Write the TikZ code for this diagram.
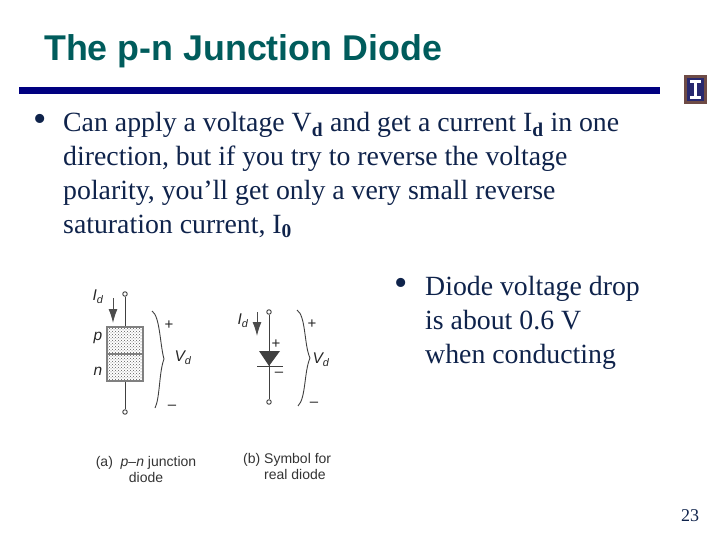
\documentclass[tikz,border=0pt]{standalone}
\usepackage{fontspec}
\setmainfont{Liberation Serif}
\setsansfont{Liberation Sans}
\usetikzlibrary{arrows.meta,patterns}
\definecolor{navyrule}{RGB}{0,0,128}
\definecolor{titleteal}{RGB}{0,92,92}
\definecolor{bodynavy}{RGB}{15,35,75}
\definecolor{logoblue}{RGB}{40,40,110}
\definecolor{logobrown}{RGB}{110,75,70}
\tikzset{
	bodytext/.style={anchor=north west, align=left, inner sep=0pt, text=bodynavy, font=\fontsize{27.8}{34}\selectfont},
	bulletmark/.style={anchor=center, inner sep=0pt, text=bodynavy, font=\fontsize{38}{38}\selectfont},
	figtext/.style={inner sep=0pt, text=black!80, font=\sffamily\fontsize{14}{16}\selectfont},
	figsym/.style={inner sep=0pt, text=black!85, font=\sffamily\itshape\fontsize{15.5}{15.5}\selectfont},
	signmark/.style={inner sep=0pt, text=black!85, font=\sffamily\fontsize{15}{15}\selectfont},
	terminal/.style={circle, draw=black!75, line width=0.9pt, inner sep=0pt, minimum size=4.5pt},
	wire/.style={draw=black!75, line width=1pt},
	curarrow/.style={draw=black!70, line width=1pt, -{Latex[length=14pt,width=9pt]}},
	bracecurve/.style={draw=black!75, line width=0.9pt},
	dopedbox/.style={inner sep=0pt, minimum width=36pt, minimum height=27pt, fill=black!30, pattern=crosshatch dots, pattern color=black!65, draw=black!50, line width=1.2pt}
}
\begin{document}
\begin{tikzpicture}[x=1pt,y=-1pt]
	\useasboundingbox (0,0) rectangle (720,540);
	%%%%% HEADER %%%%%
	\node[anchor=west, inner sep=0pt, font=\sffamily\bfseries\fontsize{35.8}{35.8}\selectfont, text=titleteal] (title) at (44,51) {The p-n Junction Diode};
	\fill[navyrule] (19,87) rectangle (660,94);
	\fill[logobrown] (684,75) rectangle (707,104);
	\fill[logoblue] (687,78) rectangle (704,101);
	\fill[white] (690,80) rectangle (701,83);
	\fill[white] (694,83) rectangle (697,96);
	\fill[white] (690,96) rectangle (701,99);
	%%%%% TEXT %%%%%
	\node[bulletmark] (bulletA) at (40,123) {•};
	\node[bodytext] (bodyA) at (63,112) {Can apply a voltage V\textsubscript{\textbf{d}} and get a current I\textsubscript{\textbf{d}} in one\\direction, but if you try to reverse the voltage\\polarity, you’ll get only a very small reverse\\saturation current, I\textsubscript{\textbf{0}}};
	\node[bulletmark] (bulletB) at (401,287) {•};
	\node[bodytext] (bodyB) at (425,276) {Diode voltage drop\\is about 0.6 V\\when conducting};
	\node[anchor=center, inner sep=0pt, text=bodynavy, font=\fontsize{18}{18}\selectfont] (pagenum) at (690,516) {23};
	%%%%% JUNCTION DIODE %%%%%
	\node[terminal] (topA) at (125,294) {};
	\node[terminal] (botA) at (125,412) {};
	\node[dopedbox] (pside) at (125,340.5) {};
	\node[dopedbox] (nside) at (125,367.5) {};
	\draw[wire] (topA) -- (pside);
	\draw[wire] (nside) -- (botA);
	\coordinate (arrowAstart) at (113,298);
	\coordinate (arrowAend) at (113,323);
	\draw[curarrow] (arrowAstart) -- (arrowAend);
	\draw[bracecurve] (152,311) .. controls (160,316) and (160,345) .. (164,359) .. controls (159,372) and (160,398) .. (155,408);
	\node[figsym] (idA) at (98,297) {I\textsubscript{d}};
	\node[figsym] (plab) at (98,338) {p};
	\node[figsym] (nlab) at (98,371) {n};
	\node[figsym] (vdA) at (183,358) {V\textsubscript{d}};
	\node[signmark] (plusA) at (169,325) {+};
	\node[signmark] (minusA) at (172,407) {–};
	\node[figtext, align=center] (capA) at (146,469) {(a)\ \ \textit{p–n} junction\\diode};
	%%%%% SYMBOL %%%%%
	\node[terminal] (topB) at (269,312) {};
	\node[terminal] (botB) at (269,402) {};
	\coordinate (triL) at (259,351);
	\coordinate (triR) at (280,351);
	\coordinate (triT) at (269,366);
	\coordinate (barL) at (257,366);
	\coordinate (barR) at (283,366);
	\fill[black!75] (triL) -- (triR) -- (triT) -- cycle;
	\draw[wire] (barL) -- (barR);
	\draw[wire] (topB) -- (botB);
	\coordinate (arrowBstart) at (257,312);
	\coordinate (arrowBend) at (257,336);
	\draw[curarrow] (arrowBstart) -- (arrowBend);
	\draw[bracecurve] (297,310) .. controls (306,316) and (304,345) .. (310,358) .. controls (304,372) and (306,398) .. (298,406);
	\node[figsym] (idB) at (243,321) {I\textsubscript{d}};
	\node[figsym] (vdB) at (321,360) {V\textsubscript{d}};
	\node[signmark] (plusB) at (276,344) {+};
	\node[signmark] (minusB) at (279,374) {–};
	\node[signmark] (plusC) at (312,324) {+};
	\node[signmark] (minusC) at (314,404) {–};
	\node[figtext, anchor=north west, align=left] (capB) at (243,453) {(b) Symbol for\\\phantom{(b) }real diode};
\end{tikzpicture}
\end{document}
